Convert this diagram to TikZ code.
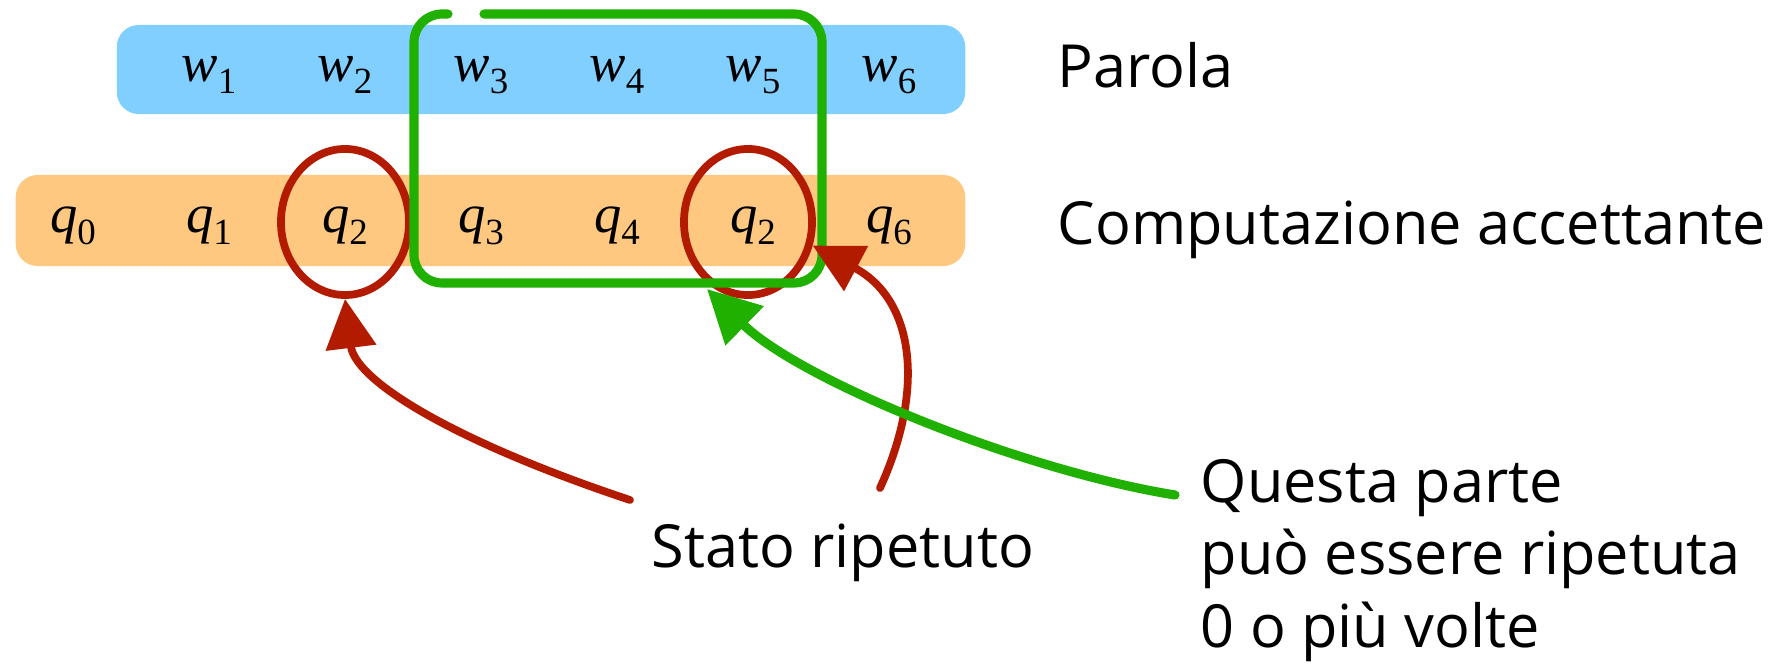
\documentclass[tikz,border=0pt]{standalone}
\usepackage{fontspec}
\setmainfont{Open Sans}
\newfontfamily\symserif{Liberation Serif}
\usetikzlibrary{arrows.meta,shapes.geometric}
\definecolor{ParolaBlue}{HTML}{80CFFF}
\definecolor{CompOrange}{HTML}{FFC880}
\definecolor{RepRed}{HTML}{B31B00}
\definecolor{LoopGreen}{HTML}{1FB000}
\newcommand{\symlab}[2]{{\symserif\fontsize{15.5}{18}\selectfont\itshape #1\raisebox{-0.22em}{\upshape\fontsize{10.5}{12}\selectfont #2}}}

\begin{document}
\begin{tikzpicture}[x=0.01cm, y=-0.01cm,
    band/.style={rounded corners=0.22cm, inner sep=0pt},
    symnode/.style={inner sep=0pt, anchor=base},
    lbl/.style={inner sep=0pt, anchor=base west, align=left, font=\fontsize{16.9}{20.5}\selectfont},
    repcirc/.style={ellipse, draw=RepRed, line width=2.2pt, minimum width=1.28cm, minimum height=1.46cm, inner sep=0pt},
    reparrow/.style={draw=RepRed, line width=2.2pt, line cap=round, -{Triangle[length=14pt, width=14pt]}},
    looparrow/.style={draw=LoopGreen, line width=2.6pt, line cap=round, -{Triangle[length=15pt, width=15pt]}}
]
    \useasboundingbox (0,0) rectangle (1775,667);

    % bande
    \node[band, fill=ParolaBlue, minimum width=8.48cm, minimum height=0.89cm] (wband) at (541,69.5) {};
    \node[band, fill=CompOrange, minimum width=9.49cm, minimum height=0.91cm] (qband) at (490.5,220.5) {};

    \foreach \i in {1,...,6}
        \node[symnode] (w\i) at ({209+136*(\i-1)},82) {\symlab{w}{\i}};
    \foreach \pos/\idx in {0/0,1/1,2/2,3/3,4/4,5/2,6/6}
        \node[symnode] (q\pos) at ({73+136*\pos},233) {\symlab{q}{\idx}};

    \node[lbl] (parola) at (1057,88) {Parola};
    \node[lbl] (comp) at (1057,245) {Computazione accettante};
    \node[lbl] (stato) at (651,567) {Stato ripetuto};
    \node[lbl] (questa) at (1200,647) {Questa parte\\può essere ripetuta\\0 o più volte};

    % stati ripetuti
    \node[repcirc] (rep1) at (345,222) {};
    \node[repcirc] (rep2) at (748,222) {};

    % parte ripetibile
    \draw[LoopGreen, line width=2.6pt, line cap=round, rounded corners=0.28cm]
        (484,14) -- (822,14) -- (822,283) -- (414,283) -- (414,14) -- (448,14);

    \coordinate (stail1) at (630,500);
    \coordinate (stail2) at (880,488);
    \coordinate (qtail) at (1175,495);
    \coordinate (looptip) at (707,289);

    \draw[reparrow] (stail1) .. controls (450,440) and (355,380) .. (rep1.south);
    \draw[reparrow] (stail2) .. controls (925,390) and (915,300) .. (rep2.-20);
    \draw[looparrow] (qtail) .. controls (1020,470) and (800,380) .. (looptip);
\end{tikzpicture}
\end{document}
